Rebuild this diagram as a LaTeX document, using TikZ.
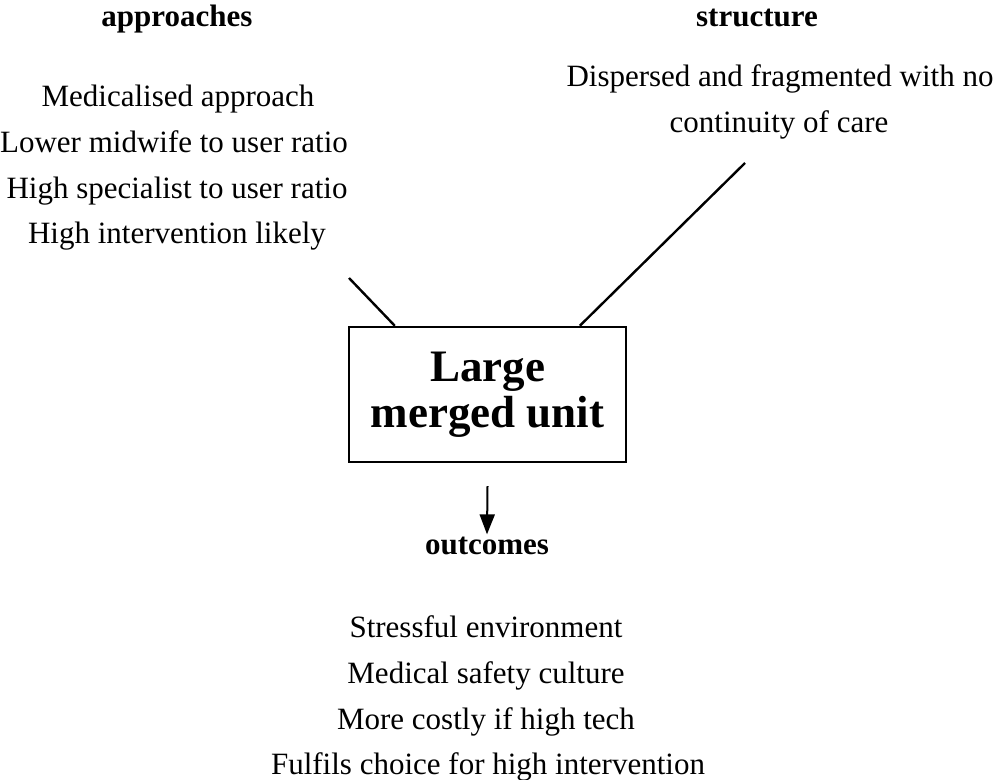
\documentclass[tikz,border=0pt]{standalone}
\usepackage{fontspec}
\setmainfont{Liberation Serif}
\usetikzlibrary{calc,arrows.meta}
\begin{document}
\begin{tikzpicture}[x=1pt,y=-1pt,
  item/.style={anchor=base,inner sep=0pt,font=\fontsize{31}{46}\selectfont},
  heading/.style={item,font=\fontsize{31}{46}\selectfont\bfseries},
  unit/.style={draw,line width=2.4pt,minimum width=277pt,minimum height=135pt,
    inner sep=0pt,align=center,font=\fontsize{45}{46}\selectfont\bfseries},
  link/.style={line width=2.4pt},
  flow/.style={line width=2pt,-{Triangle[length=20pt,width=15pt]}}]
\useasboundingbox (0,0) rectangle (995,779);

% approaches
\node[heading] (apph) at (177,27) {approaches};
\node[item] (app1) at (178,106) {Medicalised approach};
\node[item] (app2) at (174,152) {Lower midwife to user ratio};
\node[item] (app3) at (177,198) {High specialist to user ratio};
\node[item] (app4) at (177,243) {High intervention likely};

% structure
\node[heading] (strh) at (757,27) {structure};
\node[item] (str1) at (780,86) {Dispersed and fragmented with no};
\node[item] (str2) at (779,132) {continuity of care};

% central unit
\node[unit] (box) at (487.5,394.5) {Large\\merged unit};

% connectors into the unit
\coordinate (lend) at (349,278);
\coordinate (rend) at (745,163);
\draw[link] (lend) -- ($(box.north west)+(47,0)$);
\draw[link] (rend) -- ($(box.north west)+(232,0)$);

% outcomes
\node[heading] (outh) at (487,554) {outcomes};
\coordinate (astart) at ($(box.south)+(0,23)$);
\draw[flow] (astart) -- ($(outh.north)+(0,-2)$);
\node[item] (out1) at (486,637) {Stressful environment};
\node[item] (out2) at (486,683) {Medical safety culture};
\node[item] (out3) at (486,729) {More costly if high tech};
\node[item] (out4) at (488,774) {Fulfils choice for high intervention};
\end{tikzpicture}
\end{document}
